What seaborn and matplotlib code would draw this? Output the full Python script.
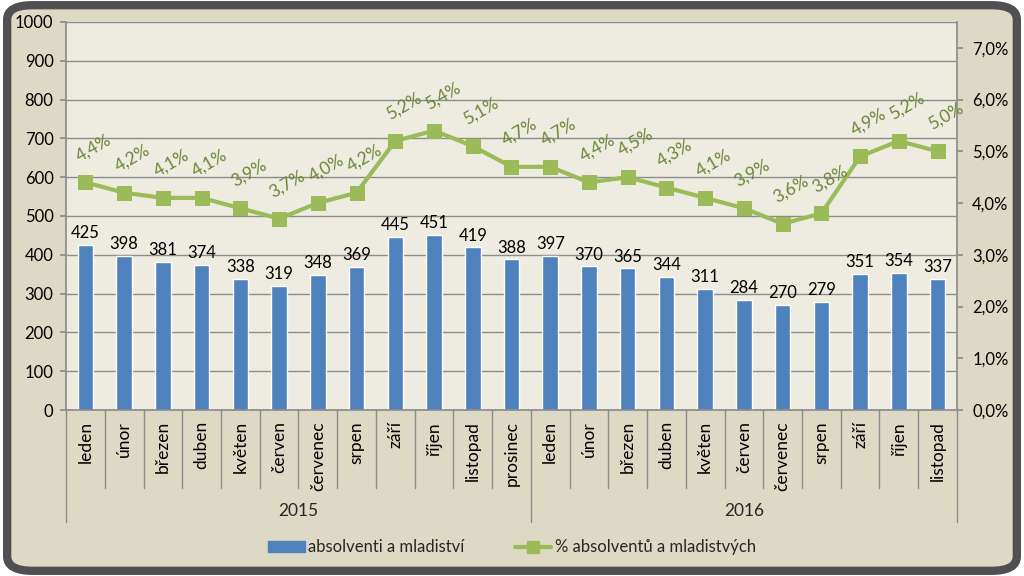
import pandas as pd
import matplotlib.pyplot as plt
import seaborn as sns
from matplotlib.patches import FancyBboxPatch
from matplotlib.lines import Line2D
from matplotlib.patches import Patch


mesice_2015 = ['leden', 'únor', 'březen', 'duben', 'květen', 'červen', 'červenec',
               'srpen', 'září', 'říjen', 'listopad', 'prosinec']
mesice_2016 = ['leden', 'únor', 'březen', 'duben', 'květen', 'červen', 'červenec',
               'srpen', 'září', 'říjen', 'listopad']
roky = ['2015', '2016']
absolventi_2015 = [425, 398, 381, 374, 338, 319, 348, 369, 445, 451, 419, 388]
absolventi_2016 = [397, 370, 365, 344, 311, 284, 270, 279, 351, 354, 337]
podil_2015 = [4.4, 4.2, 4.1, 4.1, 3.9, 3.7, 4.0, 4.2, 5.2, 5.4, 5.1, 4.7]
podil_2016 = [4.7, 4.4, 4.5, 4.3, 4.1, 3.9, 3.6, 3.8, 4.9, 5.2, 5.0]

mesice = mesice_2015 + mesice_2016
df = pd.DataFrame({
    'pos': range(len(mesice)),
    'mesic': mesice,
    'rok': [roky[0]] * len(mesice_2015) + [roky[1]] * len(mesice_2016),
    'absolventi': absolventi_2015 + absolventi_2016,
    'podil': podil_2015 + podil_2016,
})

blue = '#4F81BD'
green = '#9BBB59'
green_txt = '#6B8636'
bg = '#DDD9C4'
plot_bg = '#EEECE1'
grid_c = '#8C8C8C'

sns.set_theme(style='white')
plt.rcParams['font.family'] = ['Lato', 'DejaVu Sans']

fig = plt.figure(figsize=(10.24, 5.76), dpi=100, facecolor='white')
frame = FancyBboxPatch((0.007, 0.009), 0.986, 0.982, boxstyle='round,pad=0,rounding_size=0.025',
                       transform=fig.transFigure, facecolor=bg, edgecolor='#505050',
                       linewidth=6, zorder=-10)
fig.patches.append(frame)

ax = fig.add_axes([0.0645, 0.288, 0.870, 0.674])
ax.set_facecolor(plot_bg)

sns.barplot(data=df, x='pos', y='absolventi', native_scale=True, width=0.4,
            color=blue, saturation=1, ax=ax, zorder=2)
ax.set_ylim(0, 1000)
ax.set_xlim(-0.5, len(mesice) - 0.5)
ax.set_yticks(range(0, 1001, 100))
ax.yaxis.grid(True, color=grid_c, linewidth=1)
ax.set_axisbelow(True)
ax.set_xticks(df['pos'])
ax.set_xticklabels(df['mesic'], rotation=90, fontsize=12.5, color='black')
ax.tick_params(axis='x', length=0, pad=8)
ax.tick_params(axis='y', labelsize=12, length=4, color=grid_c, left=True, labelcolor='black', pad=5)
ax.set_xlabel('')
ax.set_ylabel('')
for s in ['top', 'right']:
    ax.spines[s].set_visible(False)
ax.spines['left'].set_color(grid_c)
ax.spines['bottom'].set_color(grid_c)

for p, v in zip(df['pos'], df['absolventi']):
    ax.text(p, v + 10, str(v), ha='center', va='bottom', fontsize=12, color='black')

ax2 = ax.twinx()
sns.lineplot(data=df, x='pos', y='podil', color=green, linewidth=3, marker='s',
             markersize=10, markeredgecolor=green, ax=ax2, zorder=3)
ax2.set_ylim(0, 7.5)
ax2.set_yticks(range(0, 8))
ax2.set_yticklabels([f'{t},0%' for t in range(0, 8)])
ax2.tick_params(axis='y', labelsize=12, length=4, color=grid_c, right=True, labelcolor='black', pad=7)
ax2.set_ylabel('')
ax2.set_xlabel('')
for s in ['top', 'left', 'bottom']:
    ax2.spines[s].set_visible(False)
ax2.spines['right'].set_color(grid_c)

for p, v in zip(df['pos'], df['podil']):
    ax2.annotate(f'{v:.1f}'.replace('.', ',') + '%', (p, v), xytext=(6, 25),
                 textcoords='offset points', ha='center', va='center', rotation=30,
                 fontsize=12.5, color=green_txt, rotation_mode='anchor')

# category separators below the axis
tr = ax.get_xaxis_transform()
n = len(mesice)
hranice = [i - 0.5 for i in range(n + 1)]
for i, x in enumerate(hranice):
    dolni = -0.289 if i in (0, len(mesice_2015), n) else -0.201
    ax.plot([x, x], [0, dolni], transform=tr, color=grid_c, linewidth=1, clip_on=False)

stred_2015 = (len(mesice_2015) - 1) / 2
stred_2016 = len(mesice_2015) + (len(mesice_2016) - 1) / 2
ax.text(stred_2015, -0.26, roky[0], transform=tr, ha='center', va='center', fontsize=12.5)
ax.text(stred_2016, -0.26, roky[1], transform=tr, ha='center', va='center', fontsize=12.5)

handles = [Patch(facecolor=blue, edgecolor=blue),
           Line2D([], [], color=green, linewidth=3, marker='s', markersize=9)]
fig.legend(handles, ['absolventi a mladiství', '% absolventů a mladistvých'],
           loc='center', bbox_to_anchor=(0.5, 0.05), ncol=2, frameon=False,
           fontsize=12, handlelength=2.2, handleheight=0.6, columnspacing=3, handletextpad=0.2)

fig.savefig('out.png', dpi=100, facecolor=fig.get_facecolor())
